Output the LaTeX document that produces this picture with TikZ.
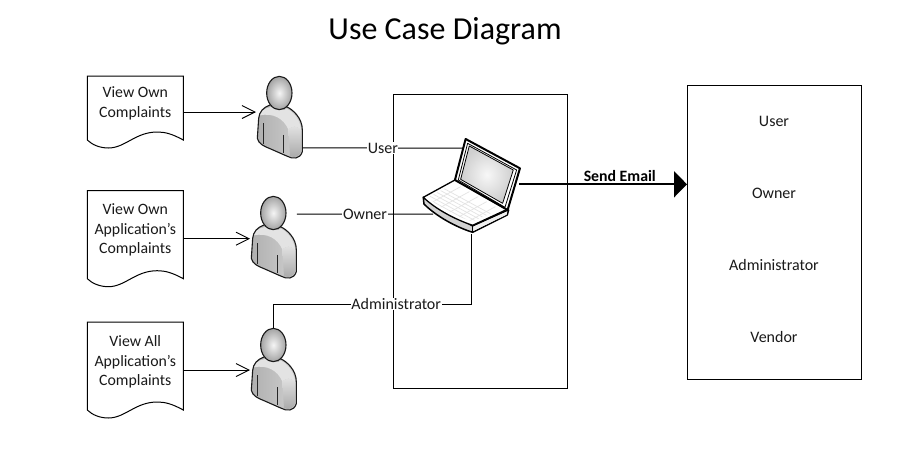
\documentclass[tikz,border=0pt]{standalone}
\usepackage{fontspec}
\setmainfont{Carlito}
\usetikzlibrary{arrows.meta,calc}
\definecolor{txt}{HTML}{1A1A1A}
\tikzset{
  line/.style={draw=black,line width=1pt},
  flow/.style={line,-{Straight Barb[length=13pt,width=13pt,line width=.9pt]}},
  lbl/.style={fill=white,inner sep=.6pt,font=\fontsize{16}{18}\selectfont,text=txt},
  docbox/.style={minimum width=96pt,inner sep=0pt,outer sep=0pt},
  doctext/.style={align=center,font=\fontsize{15.8}{19.6}\selectfont,text=txt,inner sep=0pt},
  boxtext/.style={font=\fontsize{16}{18}\selectfont,text=txt,inner sep=0pt},
  frame/.style={draw=black,line width=1pt,inner sep=0pt,outer sep=0pt},
  person/.pic={
    \begin{scope}[x=.3333pt,y=-.3333pt,shift={(-628,-69)}]
      % body
      \path[left color=gray!62,right color=gray!38]
        (600,105) .. controls (580,112) and (568,125) .. (566,145)
        -- (562,205) .. controls (565,222) and (585,230) .. (600,236)
        -- (650,258) .. controls (668,268) and (690,268) .. (697,245)
        -- (697,180) .. controls (697,145) and (670,118) .. (645,108) -- cycle;
      % shoulder band
      \fill[gray!22] (590,114) .. controls (620,106) and (650,112) .. (665,125)
        .. controls (682,140) and (692,160) .. (694,182)
        .. controls (680,165) and (668,168) .. (655,178)
        .. controls (640,145) and (610,128) .. (569,136) .. controls (572,125) and (580,118) .. (590,114) -- cycle;
      % right arm
      \path[top color=gray!22,bottom color=gray!68] (655,178) .. controls (668,168) and (680,165) .. (694,182)
        -- (694,243) .. controls (688,262) and (672,264) .. (660,258) -- cycle;
      \draw[black!85,line width=.8pt] (580,160) -- (580,222) (640,195) -- (640,250);
      % outline
      \draw[black!90,line width=1.1pt]
        (600,105) .. controls (580,112) and (568,125) .. (566,145)
        -- (562,205) .. controls (565,222) and (585,230) .. (600,236)
        -- (650,258) .. controls (668,268) and (690,268) .. (697,245)
        -- (697,180) .. controls (697,145) and (670,118) .. (645,108);
      % neck
      \fill[gray!70] (603,100) -- (645,100) -- (645,119) -- (617,119) -- cycle;
      % head
      \shade[draw=black!90,line width=1.1pt,shading=radial,
             inner color=gray!8,outer color=gray!72]
        (628,69) ellipse [x radius=38,y radius=50];
    \end{scope}
    \begin{scope}[x=.3333pt,y=-.3333pt,shift={(-628,-69)}]
      \coordinate (-in) at (558,127);
      \coordinate (-out) at (698,234);
      \coordinate (-own) at (699,72);
      \coordinate (-top) at (628,18);
    \end{scope}
  }
}
\newcommand{\wavedoc}[1]{%
  \begin{scope}[shift={(#1.south west)}]
  \draw[line,line join=miter] (0,-8) -- (0,-72-\docextra) -- (96,-72-\docextra) -- (96,-8)
    .. controls (85,-14) and (78,-16) .. (70,-16)
    .. controls (48,-16) and (38,0) .. (21,0)
    .. controls (13,0) and (5,-3) .. (0,-8) -- cycle;
  \end{scope}}
\def\docextra{0}
\begin{document}
\begin{tikzpicture}[x=1pt,y=-1pt]
\useasboundingbox (0,0) rectangle (920,458);
\fill[white] (0,0) rectangle (920,458);

\node[text=black,font=\fontsize{32}{36}\selectfont,inner sep=0pt] (title) at (445,31) {Use Case Diagram};

% documents
\node[docbox,minimum height=72pt] (d1) at (135.3,112) {};
\node[docbox,minimum height=96pt] (d2) at (135.3,238.7) {};
\node[docbox,minimum height=96pt] (d3) at (135.3,370) {};
\wavedoc{d1}
\def\docextra{24}
\wavedoc{d2}\wavedoc{d3}
\node[doctext] (t1) at (135.3,103.5) {View Own\\Complaints};
\node[doctext] (t2) at (135.3,230) {View Own\\Application’s\\Complaints};
\node[doctext] (t3) at (135.3,362) {View All\\Application’s\\Complaints};

% boxes
\node[frame,minimum width=174pt,minimum height=294pt] (sys) at (480,241) {};
\node[frame,minimum width=174pt,minimum height=294pt] (mail) at (774,232) {};
\node[boxtext] (m1) at (774,121) {User};
\node[boxtext] (m2) at (774,193) {Owner};
\node[boxtext] (m3) at (774,265) {Administrator};
\node[boxtext] (m4) at (774,337) {Vendor};

% laptop connection points
\coordinate (lapUser) at (463,148);
\coordinate (lapOwner) at (433,214);
\coordinate (lapAdmin) at (471.5,234);
\coordinate (lapMail) at (519,184.3);
\coordinate (adminBend) at (471.5,304);

% people
\pic (p1) at (279.33,93) {person};
\pic (p2) at (273.33,213) {person};
\pic (p3) at (273.33,345) {person};

% connectors
\draw[flow] (d1.east) -- (d1.east -| p1-in);
\draw[flow] (d2.east) -- (d2.east -| p2-in);
\draw[flow] (d3.east) -- (d3.east -| p3-in);
\draw[line] (p1-out) -- node[lbl]{User} (lapUser);
\draw[line] (p2-own) -- node[lbl]{Owner} (lapOwner);
\draw[line] (p3-top) |- node[lbl,pos=.81]{Administrator} (adminBend) -- (lapAdmin);
\draw[draw=black,line width=2pt,-{Triangle[length=13pt,width=26pt]}] (lapMail) --
  node[above=2pt,pos=.6,font=\bfseries\fontsize{15.8}{18}\selectfont,inner sep=0pt,text=black]{Send Email}
  (lapMail -| mail.west);

% laptop
\begin{scope}[x=.3333pt,y=-.3333pt,shift={(1200,360)}]
  % base underside
  \fill[gray!35,draw=black,line width=1.5pt,line join=round]
    (70,232) -- (72,252) .. controls (110,290) and (170,322) .. (218,337)
    -- (322,285) -- (326,270) -- (218,318) -- cycle;
  \fill[gray!12] (220,320) -- (322,274) -- (320,284) -- (220,333) -- cycle;
  \draw[black,line width=.8pt] (218,316) -- (218,337);
  % base top
  \fill[white,draw=black,line width=1.3pt,line join=round]
    (70,232) -- (165,180) -- (322,268) -- (218,316)
    .. controls (170,300) and (110,270) .. (70,232) -- cycle;
  % keys
  \begin{scope}
    \clip (84,232) -- (165,190) -- (300,268) -- (218,304) .. controls (170,290) and (120,265) .. (84,232) -- cycle;
    \foreach \i in {0,...,5} \draw[gray!22,line width=.7pt] ($(70,232)+\i*(26,15)$) -- ++(110,-60);
    \foreach \i in {0,...,5} \draw[gray!22,line width=.7pt] ($(125,202)+\i*(-10,6)$) -- ++(170,92);
  \end{scope}
  % lid
  \fill[white,draw=black,line width=2pt,line join=round]
    (197,57) -- (360,145) -- (323,270) -- (165,180) -- cycle;
  \draw[black,line width=.8pt,line join=round] (203,70) -- (350,150) -- (315,262) -- (175,180) -- cycle;
  \shade[inner color=gray!6,outer color=gray!38,draw=black,line width=.8pt,line join=round]
    (208,78) -- (340,150) -- (308,250) -- (182,178) -- cycle;
\end{scope}
\end{tikzpicture}
\end{document}
